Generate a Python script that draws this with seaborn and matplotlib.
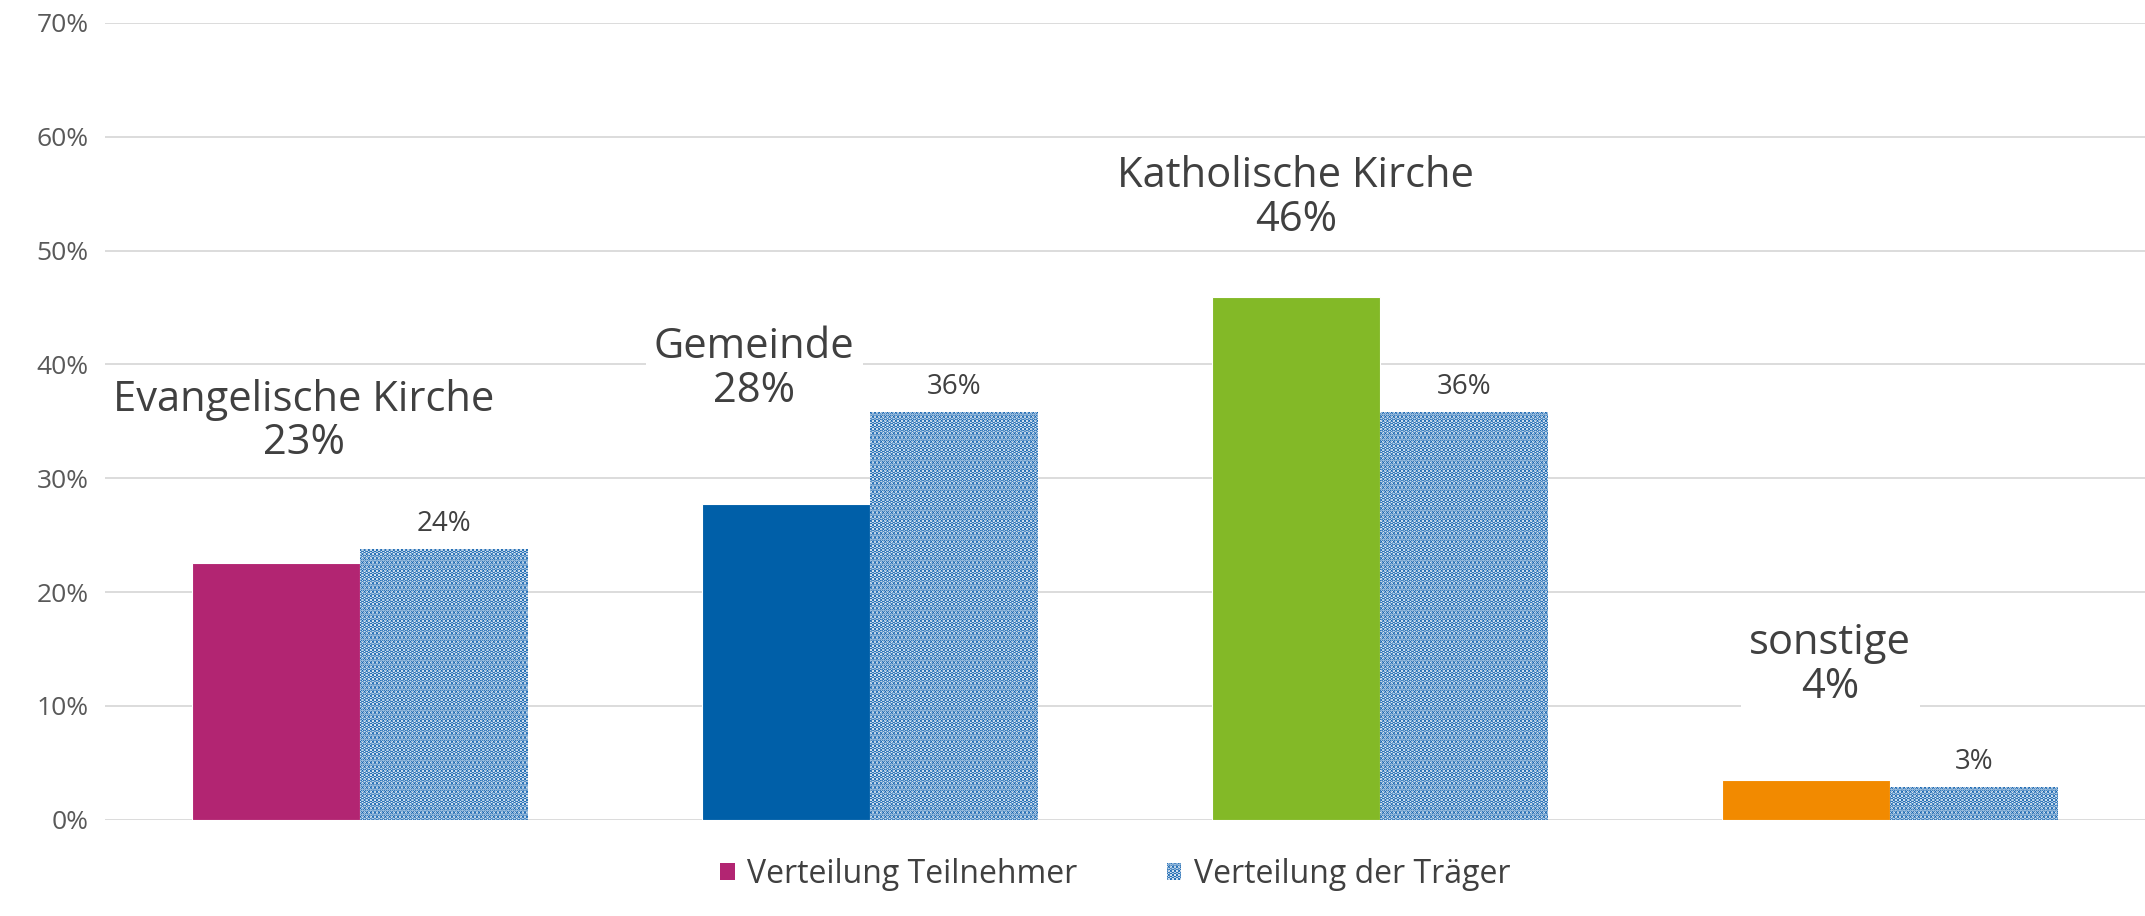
import numpy as np
import pandas as pd
import matplotlib
matplotlib.use('Agg')
import matplotlib.pyplot as plt
from matplotlib.patches import Patch
from matplotlib.ticker import PercentFormatter
import seaborn as sns

# ---- data ----
categories = ['Evangelische Kirche', 'Gemeinde', 'Katholische Kirche', 'sonstige']
teilnehmer = [22.6, 27.7, 45.9, 3.5]     # Verteilung Teilnehmer (%)
traeger = [23.8, 35.8, 35.8, 2.9]        # Verteilung der Träger (%)
series_names = ['Verteilung Teilnehmer', 'Verteilung der Träger']
yticks = [0, 10, 20, 30, 40, 50, 60, 70]

# ---- styling ----
cat_colors = ['#B22572', '#005FA8', '#83B927', '#F28A00']
dot_color = '#0B5EAD'
text_color = '#404040'
tick_color = '#595959'
grid_color = '#D9D9D9'

# where the big category labels sit (x offset from group centre, y centre in %)
label_dx = [-0.11, -0.227, -0.165, -0.117]
label_y = [35.0, 39.6, 54.6, 13.6]

sns.set_theme(style='white')
plt.rcParams['font.family'] = ['Open Sans', 'DejaVu Sans']
plt.rcParams['hatch.linewidth'] = 2.4

df = pd.DataFrame({
    'Kategorie': categories * 2,
    'Serie': [series_names[0]] * 4 + [series_names[1]] * 4,
    'Wert': teilnehmer + traeger,
})

fig = plt.figure(figsize=(21.45, 9.16), dpi=100)
ax = fig.add_axes([0.049, 0.105, 0.951, 0.870])

sns.barplot(data=df, x='Kategorie', y='Wert', hue='Serie', order=categories,
            hue_order=series_names, width=0.66, palette=['white', 'white'],
            legend=False, ax=ax, zorder=2)

solid_bars = ax.containers[0]
dotted_bars = ax.containers[1]
for bar, col in zip(solid_bars, cat_colors):
    bar.set_facecolor(col)
    bar.set_edgecolor('white')
    bar.set_linewidth(0.8)
for bar in dotted_bars:
    bar.set_facecolor('white')
    bar.set_edgecolor(dot_color)
    bar.set_hatch('....')
    bar.set_linewidth(0)

# small labels on the dotted bars
for bar, v in zip(dotted_bars, traeger):
    ax.annotate(f'{v:.0f}%', (bar.get_x() + bar.get_width() / 2, bar.get_height()),
                xytext=(0, 8), textcoords='offset points', ha='center', va='bottom',
                fontsize=20, color=text_color, zorder=4)

# big category labels with white box
for i, (cat, v) in enumerate(zip(categories, teilnehmer)):
    ax.text(i + label_dx[i], label_y[i], f'{cat}\n{v:.0f}%', ha='center', va='center',
            fontsize=30, color=text_color, linespacing=1.05,
            bbox=dict(boxstyle='square,pad=0.2', fc='white', ec='none'), zorder=5)

ax.set_ylim(0, 70)
ax.set_xlim(-0.5, 3.5)
ax.set_yticks(yticks)
ax.yaxis.set_major_formatter(PercentFormatter(decimals=0))
ax.tick_params(axis='y', labelsize=19, labelcolor=tick_color, length=0, pad=12)
ax.tick_params(axis='x', length=0, labelbottom=False)
ax.set_xlabel('')
ax.set_ylabel('')
ax.grid(axis='y', color=grid_color, linewidth=1.3, zorder=0)
ax.set_axisbelow(True)
sns.despine(ax=ax, left=True, bottom=True)

handles = [Patch(facecolor=cat_colors[0], edgecolor='none'),
           Patch(facecolor='white', edgecolor=dot_color, hatch='....', linewidth=0)]
fig.legend(handles, series_names, loc='center', bbox_to_anchor=(0.52, 0.045), ncol=2,
           frameon=False, fontsize=23, handlelength=0.45, handleheight=0.45,
           handletextpad=0.4, columnspacing=2.8, labelcolor=text_color)

fig.savefig('out.png', dpi=100, facecolor='white')
